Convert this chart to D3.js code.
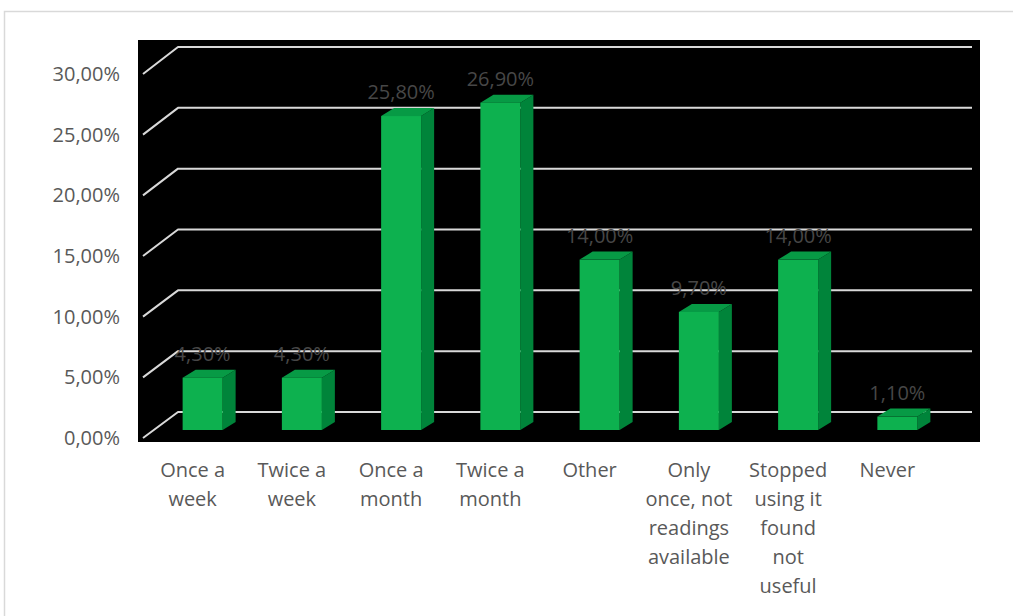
<!DOCTYPE html>
<html>
<head>
<meta charset="utf-8">
<script src="https://cdn.jsdelivr.net/npm/d3@7"></script>
<style>
  html, body { margin: 0; padding: 0; background: #ffffff; }
  svg { display: block; }
  text { font-family: "Open Sans", sans-serif; }
</style>
</head>
<body>
<svg id="chart" width="1013" height="616"></svg>
<script>
// Usage frequency shares (percent)
const categories = [
  "Once a week",
  "Twice a week",
  "Once a month",
  "Twice a month",
  "Other",
  "Only once, not readings available",
  "Stopped using it found not useful",
  "Never"
];
const values = [4.3, 4.3, 25.8, 26.9, 14.0, 9.7, 14.0, 1.1];
const tickValues = [0, 5, 10, 15, 20, 25, 30];
// wrapped category labels as they appear under the axis
const categoryLines = [
  ["Once a", "week"],
  ["Twice a", "week"],
  ["Once a", "month"],
  ["Twice a", "month"],
  ["Other"],
  ["Only", "once, not", "readings", "available"],
  ["Stopped", "using it", "found", "not", "useful"],
  ["Never"]
];

const svg = d3.select("#chart");
const fmt = v => d3.format(".2f")(v).replace(".", ",") + "%";

// outer frame
svg.append("rect")
  .attr("x", 4.5).attr("y", 11.5)
  .attr("width", 1100).attr("height", 700)
  .attr("fill", "#ffffff")
  .attr("stroke", "#d9d9d9").attr("stroke-width", 1.5);

// black wall behind the plot
svg.append("rect")
  .attr("x", 138).attr("y", 40)
  .attr("width", 842).attr("height", 402)
  .attr("fill", "#000000");

// 3D projection: front edge of floor and back wall
const depthDx = 35;
const yFront = d3.scaleLinear().domain([0, 30]).range([438, 74]);
const yBack = d3.scaleLinear().domain([0, 30]).range([412, 47]);
const x = d3.scaleBand().domain(categories).range([143, 937]).paddingInner(0).paddingOuter(0);
const backRight = 972;

// gridlines: short diagonal on the side wall, then across the back wall
const grid = svg.append("g");
tickValues.forEach(t => {
  grid.append("path")
    .attr("d", `M${143},${yFront(t)} L${143 + depthDx},${yBack(t)} L${backRight},${yBack(t)}`)
    .attr("fill", "none")
    .attr("stroke", "#d9d9d9")
    .attr("stroke-width", 2)
    .attr("stroke-linejoin", "round");
});

// y-axis labels
svg.append("g").selectAll("text")
  .data(tickValues)
  .join("text")
  .attr("x", 120)
  .attr("y", d => yFront(d))
  .attr("dy", "0.35em")
  .attr("text-anchor", "end")
  .attr("font-size", 20)
  .attr("fill", "#595959")
  .text(d => fmt(d));

// bars: front face, top face, right side face
const yBar = d3.scaleLinear().domain([0, 30]).range([430, 430 - 30 * 12.17]);
const barW = 40, barShift = 10, sideDx = 13, sideDy = -8;
const bars = svg.append("g");
categories.forEach((c, i) => {
  const v = values[i];
  const cx = x(c) + x.bandwidth() / 2 + barShift;
  const x0 = cx - barW / 2, x1 = cx + barW / 2;
  const yt = yBar(v), yb = yBar(0);
  const g = bars.append("g");
  g.append("path")
    .attr("d", `M${x1},${yt} L${x1 + sideDx},${yt + sideDy} L${x1 + sideDx},${yb + sideDy} L${x1},${yb} Z`)
    .attr("fill", "#00843a");
  g.append("path")
    .attr("d", `M${x0},${yt} L${x0 + sideDx},${yt + sideDy} L${x1 + sideDx},${yt + sideDy} L${x1},${yt} Z`)
    .attr("fill", "#079a45");
  g.append("rect")
    .attr("x", x0).attr("y", yt)
    .attr("width", barW).attr("height", yb - yt)
    .attr("fill", "#0db14f");
});

// value labels above bars
svg.append("g").selectAll("text")
  .data(categories)
  .join("text")
  .attr("x", c => x(c) + x.bandwidth() / 2 + barShift)
  .attr("y", (c, i) => yBar(values[i]) + sideDy - 9)
  .attr("text-anchor", "middle")
  .attr("font-size", 20)
  .attr("fill", "#474747")
  .text((c, i) => fmt(values[i]));

// category labels under the floor
const catG = svg.append("g");
categories.forEach((c, i) => {
  const t = catG.append("text")
    .attr("x", x(c) + x.bandwidth() / 2)
    .attr("y", 477)
    .attr("text-anchor", "middle")
    .attr("font-size", 20)
    .attr("fill", "#595959");
  categoryLines[i].forEach((line, j) => {
    t.append("tspan")
      .attr("x", x(c) + x.bandwidth() / 2)
      .attr("y", 477 + j * 29)
      .text(line);
  });
});
</script>
</body>
</html>
